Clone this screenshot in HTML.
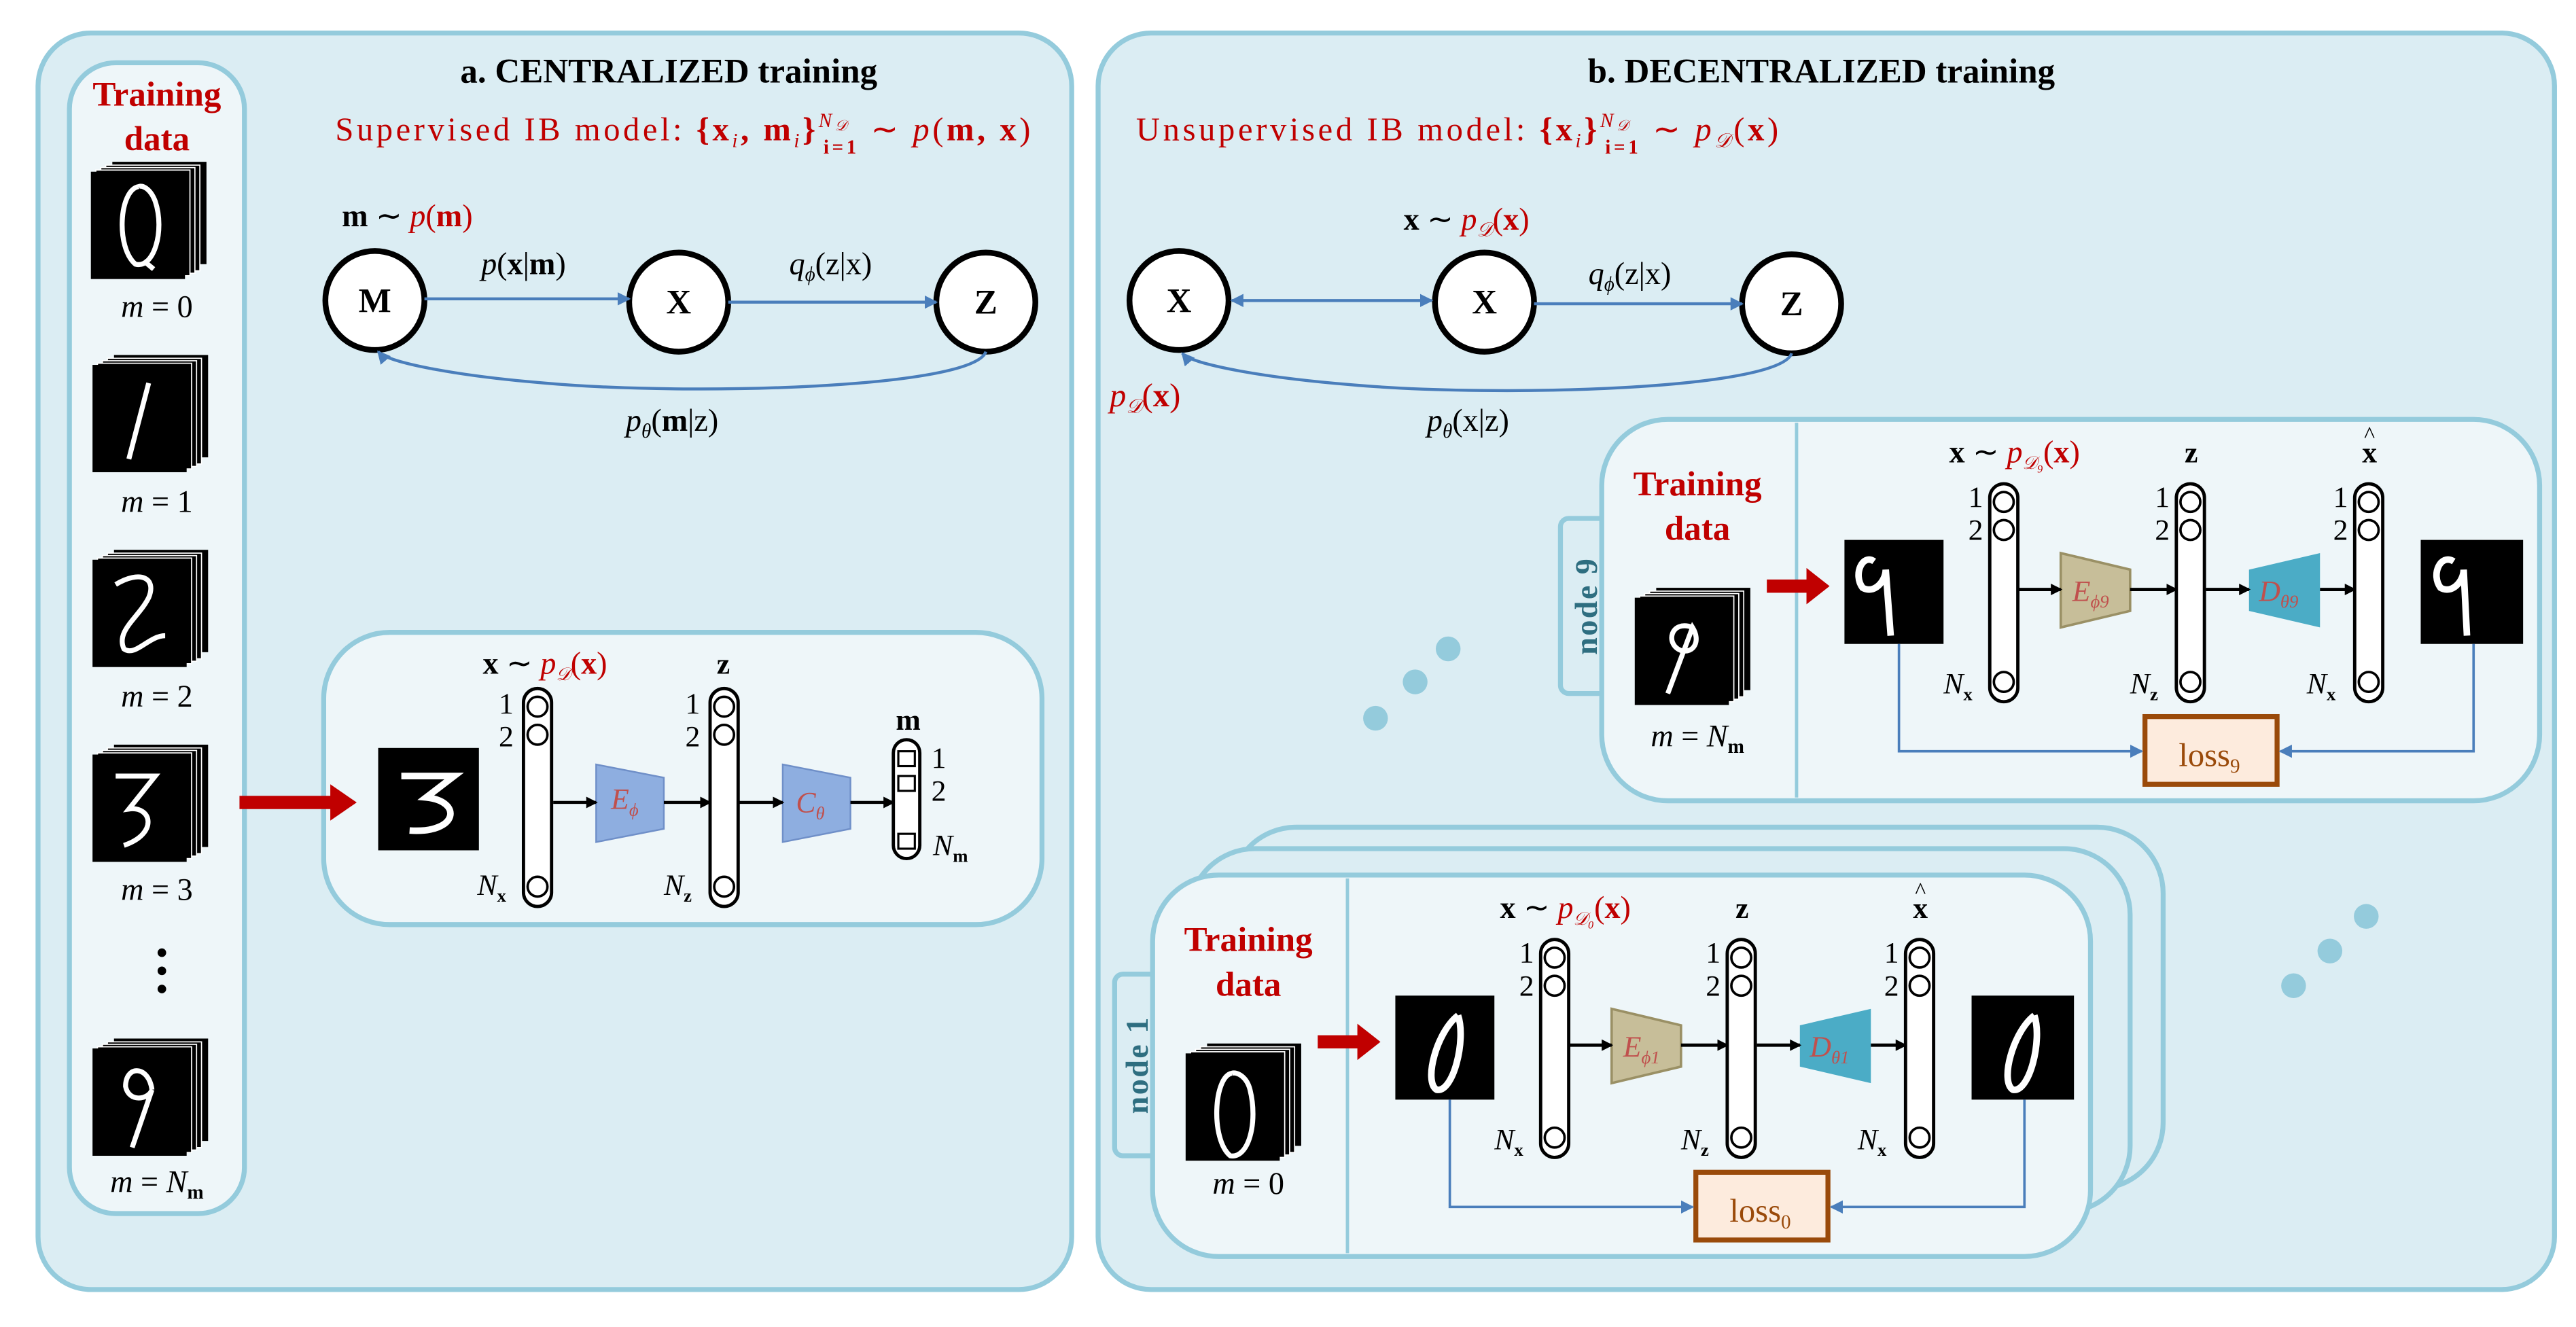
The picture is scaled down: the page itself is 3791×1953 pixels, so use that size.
<!DOCTYPE html>
<html><head><meta charset="utf-8"><style>
html,body{margin:0;padding:0;background:#fff;}
svg{display:block;}
text{font-family:"Liberation Serif",serif;}
.r{fill:#c00000;}
.b{font-weight:bold;}
.i{font-style:italic;}
</style></head><body>
<svg width="3791" height="1953" viewBox="0 0 1560 803.7" xmlns="http://www.w3.org/2000/svg">
<defs>
<marker id="ab" markerWidth="8" markerHeight="8" refX="7" refY="4" orient="auto" markerUnits="userSpaceOnUse"><path d="M0,0 L8,4 L0,8 z" fill="#4a7ebb"/></marker>
<marker id="abs" markerWidth="8" markerHeight="8" refX="1" refY="4" orient="auto" markerUnits="userSpaceOnUse"><path d="M8,0 L0,4 L8,8 z" fill="#4a7ebb"/></marker>
<marker id="ak" markerWidth="7" markerHeight="7" refX="6" refY="3.5" orient="auto" markerUnits="userSpaceOnUse"><path d="M0,0 L7,3.5 L0,7 z" fill="#000"/></marker>
<g id="col"><rect x="0" y="0" width="17" height="132" rx="8.5" fill="#fff" stroke="#000" stroke-width="2"/><circle cx="8.5" cy="11" r="6" fill="#fff" stroke="#000" stroke-width="1.5"/><circle cx="8.5" cy="28" r="6" fill="#fff" stroke="#000" stroke-width="1.5"/><circle cx="8.5" cy="120" r="6" fill="#fff" stroke="#000" stroke-width="1.5"/></g>
<g id="stk"><rect x="13" y="-6" width="57" height="62" fill="#000"/><rect x="9" y="-4" width="57" height="64" fill="#000" stroke="#fff" stroke-width="0.7"/><rect x="6" y="-2.5" width="57" height="64" fill="#000" stroke="#fff" stroke-width="0.7"/><rect x="3" y="-1" width="57" height="64" fill="#000" stroke="#fff" stroke-width="0.7"/><rect x="0" y="0" width="57" height="65" fill="#000"/></g>
<g id="node">
<rect x="970" y="254" width="568" height="231" rx="40" fill="#eef6f9" stroke="#94cbdc" stroke-width="3"/>
<line x1="1088" y1="256" x2="1088" y2="483" stroke="#94cbdc" stroke-width="2"/>
<path d="M1070,351 H1094 V344 L1108,355 L1094,366 V359 H1070 z" fill="#c00000"/>
<rect x="1117" y="327" width="60" height="63" fill="#000"/>
<rect x="1466" y="327" width="62" height="63" fill="#000"/>
<use href="#col" x="1205" y="293"/><use href="#col" x="1318" y="293"/><use href="#col" x="1426" y="293"/>
<polygon points="1248,335 1290,345 1290,370 1248,380" fill="#c7be99" stroke="#9a9065" stroke-width="1.5"/>
<polygon points="1362,345 1405,335 1405,380 1362,370" fill="#4bacc6"/>
<line x1="1222" y1="357" x2="1248" y2="357" stroke="#000" stroke-width="2" marker-end="url(#ak)"/>
<line x1="1290" y1="357" x2="1318" y2="357" stroke="#000" stroke-width="2" marker-end="url(#ak)"/>
<line x1="1336" y1="357" x2="1362" y2="357" stroke="#000" stroke-width="2" marker-end="url(#ak)"/>
<line x1="1405" y1="357" x2="1426" y2="357" stroke="#000" stroke-width="2" marker-end="url(#ak)"/>
<rect x="1299" y="434" width="80" height="41" fill="#fdebdd" stroke="#9a4a0a" stroke-width="3"/>
<path d="M1150,390 V455 H1297" fill="none" stroke="#4a7ebb" stroke-width="1.5" marker-end="url(#ab)"/>
<path d="M1498,390 V455 H1381" fill="none" stroke="#4a7ebb" stroke-width="1.5" marker-end="url(#ab)"/>
<g font-size="18"><text x="1192" y="307">1</text><text x="1192" y="327">2</text><text x="1305" y="307">1</text><text x="1305" y="327">2</text><text x="1413" y="307">1</text><text x="1413" y="327">2</text></g>
<g font-size="18" class="i"><text x="1177" y="420">N<tspan font-size="11" font-style="normal" font-weight="bold" dy="4">x</tspan></text><text x="1290" y="420">N<tspan font-size="11" font-style="normal" font-weight="bold" dy="4">z</tspan></text><text x="1397" y="420">N<tspan font-size="11" font-style="normal" font-weight="bold" dy="4">x</tspan></text></g>
<text x="1327" y="280" font-size="18" class="b" text-anchor="middle">z</text>
<text x="1435" y="280" font-size="18" class="b" text-anchor="middle">x</text><text x="1435" y="268" font-size="14" text-anchor="middle">^</text>
<text x="1028" y="300" font-size="21" class="r b" text-anchor="middle">Training</text>
<text x="1028" y="327" font-size="21" class="r b" text-anchor="middle">data</text>
</g>
</defs>

<!-- LEFT PANEL -->
<rect x="23" y="20" width="626" height="761" rx="32" fill="#dbedf3" stroke="#94cbdc" stroke-width="3"/>
<rect x="42" y="38" width="106" height="697" rx="28" fill="#eef6f9" stroke="#94cbdc" stroke-width="3"/>
<text x="95" y="64" font-size="21" class="r b" text-anchor="middle">Training</text>
<text x="95" y="91" font-size="21" class="r b" text-anchor="middle">data</text>
<use href="#stk" x="55" y="104"/>
<path d="M84,113 C72,115 70,150 82,160 C93,163 100,140 94,122 C91,114 86,112 84,113 M87,158 L93,163" stroke="#fff" stroke-width="3" fill="none"/>
<use href="#stk" x="56" y="221"/>
<path d="M90,232 L78,278" stroke="#fff" stroke-width="3" fill="none"/>
<use href="#stk" x="56" y="339"/>
<path d="M70,354 C85,345 95,350 90,362 C84,374 70,382 75,393 C82,398 90,385 100,385" stroke="#fff" stroke-width="3" fill="none"/>
<use href="#stk" x="56" y="457"/>
<path d="M70,470 H94 L78,490 C92,488 96,505 75,512" stroke="#fff" stroke-width="3" fill="none"/>
<use href="#stk" x="56" y="635"/>
<path d="M92,660 C90,645 76,645 76,658 C78,668 90,666 92,660 L80,695" stroke="#fff" stroke-width="3" fill="none"/>
<g font-size="19" text-anchor="middle"><text x="95" y="192"><tspan class="i">m</tspan> = 0</text><text x="95" y="310"><tspan class="i">m</tspan> = 1</text><text x="95" y="428"><tspan class="i">m</tspan> = 2</text><text x="95" y="545"><tspan class="i">m</tspan> = 3</text><text x="95" y="722"><tspan class="i">m</tspan> = <tspan class="i">N</tspan><tspan font-size="12" class="b" dy="4">m</tspan></text></g>
<circle cx="98" cy="577" r="2.6"/><circle cx="98" cy="588" r="2.6"/><circle cx="98" cy="599" r="2.6"/>
<text x="405" y="50" font-size="21" class="b" text-anchor="middle">a. CENTRALIZED training</text>
<text x="203" y="85" font-size="20" class="r" textLength="421" lengthAdjust="spacing">Supervised IB model: <tspan class="b">{x</tspan><tspan class="i" font-size="12" dy="4">i</tspan><tspan dy="-4" class="b">, m</tspan><tspan class="i" font-size="12" dy="4">i</tspan><tspan dy="-4" class="b">}</tspan><tspan font-size="12" class="i" dy="-8">N</tspan><tspan font-size="9" class="i" dy="2">𝒟</tspan><tspan font-size="12" class="b" dx="-16" dy="14">i=1</tspan><tspan dy="-8"> ∼ </tspan><tspan class="i">p</tspan>(<tspan class="b">m, x</tspan>)</text>
<text x="207" y="137" font-size="19"><tspan class="b">m</tspan> ∼ <tspan class="r i">p</tspan><tspan class="r">(</tspan><tspan class="r b">m</tspan><tspan class="r">)</tspan></text>
<g fill="#fff" stroke="#000" stroke-width="3.5"><circle cx="227" cy="182" r="30"/><circle cx="411" cy="183" r="30"/><circle cx="597" cy="183" r="30"/></g>
<g font-size="21" text-anchor="middle" class="b"><text x="227" y="189">M</text><text x="411" y="190">X</text><text x="597" y="190">Z</text></g>
<line x1="257" y1="181" x2="381" y2="181" stroke="#4a7ebb" stroke-width="1.8" marker-end="url(#ab)"/>
<line x1="441" y1="183" x2="567" y2="183" stroke="#4a7ebb" stroke-width="1.8" marker-end="url(#ab)"/>
<path d="M597,213 C590,235 420,240 330,232 C280,228 235,220 229,213" fill="none" stroke="#4a7ebb" stroke-width="1.8" marker-end="url(#ab)"/>
<text x="317" y="166" font-size="19" text-anchor="middle"><tspan class="i">p</tspan>(<tspan class="b">x</tspan>|<tspan class="b">m</tspan>)</text>
<text x="503" y="166" font-size="19" text-anchor="middle"><tspan class="i">q</tspan><tspan font-size="12" class="i" dy="4">ϕ</tspan><tspan dy="-4">(z|x)</tspan></text>
<text x="407" y="261" font-size="19" text-anchor="middle"><tspan class="i">p</tspan><tspan font-size="12" class="i" dy="4">θ</tspan><tspan dy="-4">(</tspan><tspan class="b">m</tspan>|z)</text>

<rect x="196" y="383" width="435" height="177" rx="40" fill="#eef6f9" stroke="#94cbdc" stroke-width="3"/>
<path d="M145,482 H200 V475 L216,486 L200,497 V490 H145 z" fill="#c00000"/>
<rect x="229" y="453" width="61" height="62" fill="#000"/>
<path d="M243,470 H275 L258,483 C280,485 278,505 248,503" stroke="#fff" stroke-width="4" fill="none"/>
<use href="#col" x="317" y="417"/><use href="#col" x="430" y="417"/>
<rect x="541" y="448" width="16" height="72" rx="8" fill="#fff" stroke="#000" stroke-width="2"/>
<g fill="#fff" stroke="#000" stroke-width="1.3"><rect x="544" y="455" width="10" height="9"/><rect x="544" y="470" width="10" height="9"/><rect x="544" y="505" width="10" height="9"/></g>
<polygon points="361,463 402,471 402,502 361,510" fill="#8eaee0" stroke="#6f8fc8" stroke-width="1"/>
<polygon points="474,463 515,471 515,502 474,510" fill="#8eaee0" stroke="#6f8fc8" stroke-width="1"/>
<g stroke="#000" stroke-width="1.8"><line x1="335" y1="486" x2="361" y2="486" marker-end="url(#ak)"/><line x1="402" y1="486" x2="430" y2="486" marker-end="url(#ak)"/><line x1="447" y1="486" x2="474" y2="486" marker-end="url(#ak)"/><line x1="515" y1="486" x2="541" y2="486" marker-end="url(#ak)"/></g>
<text x="370" y="490" font-size="18" class="i" fill="#c0504d">E<tspan font-size="11" dy="4">ϕ</tspan></text>
<text x="482" y="492" font-size="18" class="i" fill="#c0504d">C<tspan font-size="11" dy="4">θ</tspan></text>
<text x="330" y="408" font-size="19" text-anchor="middle"><tspan class="b">x</tspan> ∼ <tspan class="r i">p</tspan><tspan class="r i" font-size="11" dy="4">𝒟</tspan><tspan class="r" dy="-4">(</tspan><tspan class="r b">x</tspan><tspan class="r">)</tspan></text>
<text x="438" y="408" font-size="18" class="b" text-anchor="middle">z</text>
<text x="550" y="442" font-size="18" class="b" text-anchor="middle">m</text>
<g font-size="18"><text x="302" y="432">1</text><text x="302" y="452">2</text><text x="415" y="432">1</text><text x="415" y="452">2</text><text x="564" y="465">1</text><text x="564" y="485">2</text></g>
<g font-size="18" class="i"><text x="289" y="542">N<tspan font-size="11" font-style="normal" class="b" dy="4">x</tspan></text><text x="402" y="542">N<tspan font-size="11" font-style="normal" class="b" dy="4">z</tspan></text><text x="565" y="518">N<tspan font-size="11" font-style="normal" class="b" dy="4">m</tspan></text></g>

<!-- RIGHT PANEL -->
<rect x="665" y="20" width="882" height="761" rx="32" fill="#dbedf3" stroke="#94cbdc" stroke-width="3"/>
<text x="1103" y="50" font-size="21" class="b" text-anchor="middle">b. DECENTRALIZED training</text>
<text x="688" y="85" font-size="20" class="r" textLength="389" lengthAdjust="spacing">Unsupervised IB model: <tspan class="b">{x</tspan><tspan class="i" font-size="12" dy="4">i</tspan><tspan dy="-4" class="b">}</tspan><tspan font-size="12" class="i" dy="-8">N</tspan><tspan font-size="9" class="i" dy="2">𝒟</tspan><tspan font-size="12" class="b" dx="-16" dy="14">i=1</tspan><tspan dy="-8"> ∼ </tspan><tspan class="i">p</tspan><tspan class="i" font-size="12" dy="4">𝒟</tspan><tspan dy="-4">(</tspan><tspan class="b">x</tspan>)</text>
<text x="850" y="139" font-size="19"><tspan class="b">x</tspan> ∼ <tspan class="r i">p</tspan><tspan class="r i" font-size="12" dy="4">𝒟</tspan><tspan class="r" dy="-4">(</tspan><tspan class="r b">x</tspan><tspan class="r">)</tspan></text>
<g fill="#fff" stroke="#000" stroke-width="3.5"><circle cx="714" cy="182" r="30"/><circle cx="899" cy="183" r="30"/><circle cx="1085" cy="184" r="30"/></g>
<g font-size="21" text-anchor="middle" class="b"><text x="714" y="189">X</text><text x="899" y="190">X</text><text x="1085" y="191">Z</text></g>
<line x1="746" y1="182" x2="867" y2="182" stroke="#4a7ebb" stroke-width="1.8" marker-end="url(#ab)" marker-start="url(#abs)"/>
<line x1="929" y1="184" x2="1055" y2="184" stroke="#4a7ebb" stroke-width="1.8" marker-end="url(#ab)"/>
<path d="M1085,214 C1078,236 908,241 818,233 C768,229 722,221 716,214" fill="none" stroke="#4a7ebb" stroke-width="1.8" marker-end="url(#ab)"/>
<text x="987" y="172" font-size="19" text-anchor="middle"><tspan class="i">q</tspan><tspan font-size="12" class="i" dy="4">ϕ</tspan><tspan dy="-4">(z|x)</tspan></text>
<text x="889" y="261" font-size="19" text-anchor="middle"><tspan class="i">p</tspan><tspan font-size="12" class="i" dy="4">θ</tspan><tspan dy="-4">(x|z)</tspan></text>
<text x="672" y="246" font-size="20" class="r"><tspan class="i">p</tspan><tspan class="i" font-size="12" dy="4">𝒟</tspan><tspan dy="-4">(</tspan><tspan class="b">x</tspan>)</text>

<g fill="#94cbdc"><circle cx="877" cy="393" r="7.5"/><circle cx="857" cy="413" r="7.5"/><circle cx="833" cy="435" r="7.5"/><circle cx="1433" cy="555" r="7.5"/><circle cx="1411" cy="576" r="7.5"/><circle cx="1389" cy="597" r="7.5"/></g>

<!-- node 9 -->
<rect x="945" y="314" width="40" height="106" rx="5" fill="#dbedf3" stroke="#94cbdc" stroke-width="3"/>
<use href="#node"/>
<text transform="translate(967,367) rotate(-90)" font-size="19" class="b" fill="#2e6e80" text-anchor="middle" letter-spacing="1">node 9</text>
<use href="#stk" x="990" y="362"/>
<path d="M1025,380 C1012,375 1008,390 1018,394 C1026,396 1030,388 1025,380 L1010,420" stroke="#fff" stroke-width="3" fill="none"/>
<path d="M1135,340 C1128,335 1122,348 1128,356 C1135,360 1142,352 1142,345 L1145,385" stroke="#fff" stroke-width="4" fill="none"/>
<path d="M1486,340 C1478,335 1472,348 1478,356 C1485,360 1492,352 1492,345 L1494,385" stroke="#fff" stroke-width="4" fill="none"/>
<text x="1028" y="452" font-size="19" text-anchor="middle"><tspan class="i">m</tspan> = <tspan class="i">N</tspan><tspan font-size="12" class="b" dy="4">m</tspan></text>
<text x="1220" y="280" font-size="19" text-anchor="middle"><tspan class="b">x</tspan> ∼ <tspan class="r i">p</tspan><tspan class="r i" font-size="11" dy="4">𝒟₉</tspan><tspan class="r" dy="-4">(</tspan><tspan class="r b">x</tspan><tspan class="r">)</tspan></text>
<text x="1255" y="364" font-size="18" class="i" fill="#c0504d">E<tspan font-size="11" dy="4">ϕ9</tspan></text>
<text x="1368" y="364" font-size="18" class="i" fill="#c0504d">D<tspan font-size="11" dy="4">θ9</tspan></text>
<text x="1338" y="464" font-size="20" text-anchor="middle" fill="#9a4a0a">loss<tspan font-size="12" dy="4">9</tspan></text>

<!-- node stack -->
<rect x="745" y="501" width="565" height="219" rx="40" fill="#dbedf3" stroke="#94cbdc" stroke-width="3"/>
<rect x="720" y="514" width="570" height="220" rx="40" fill="#dbedf3" stroke="#94cbdc" stroke-width="3"/>
<rect x="675" y="590" width="40" height="110" rx="5" fill="#dbedf3" stroke="#94cbdc" stroke-width="3"/>
<g transform="translate(-272,276)"><use href="#node"/></g>
<text transform="translate(695,645) rotate(-90)" font-size="19" class="b" fill="#2e6e80" text-anchor="middle" letter-spacing="1">node 1</text>
<use href="#stk" x="718" y="638"/>
<path d="M746,650 C735,652 733,690 745,700 C756,702 762,680 757,660 C755,652 749,649 746,650" stroke="#fff" stroke-width="3" fill="none"/>
<path d="M883,615 C870,625 862,655 870,660 C880,662 888,630 883,615" stroke="#fff" stroke-width="4" fill="none"/>
<path d="M1232,615 C1219,625 1211,655 1219,660 C1229,662 1237,630 1232,615" stroke="#fff" stroke-width="4" fill="none"/>
<text x="756" y="723" font-size="19" text-anchor="middle"><tspan class="i">m</tspan> = 0</text>
<text x="948" y="556" font-size="19" text-anchor="middle"><tspan class="b">x</tspan> ∼ <tspan class="r i">p</tspan><tspan class="r i" font-size="11" dy="4">𝒟₀</tspan><tspan class="r" dy="-4">(</tspan><tspan class="r b">x</tspan><tspan class="r">)</tspan></text>
<text x="983" y="640" font-size="18" class="i" fill="#c0504d">E<tspan font-size="11" dy="4">ϕ1</tspan></text>
<text x="1096" y="640" font-size="18" class="i" fill="#c0504d">D<tspan font-size="11" dy="4">θ1</tspan></text>
<text x="1066" y="740" font-size="20" text-anchor="middle" fill="#9a4a0a">loss<tspan font-size="12" dy="4">0</tspan></text>
</svg>
</body></html>
